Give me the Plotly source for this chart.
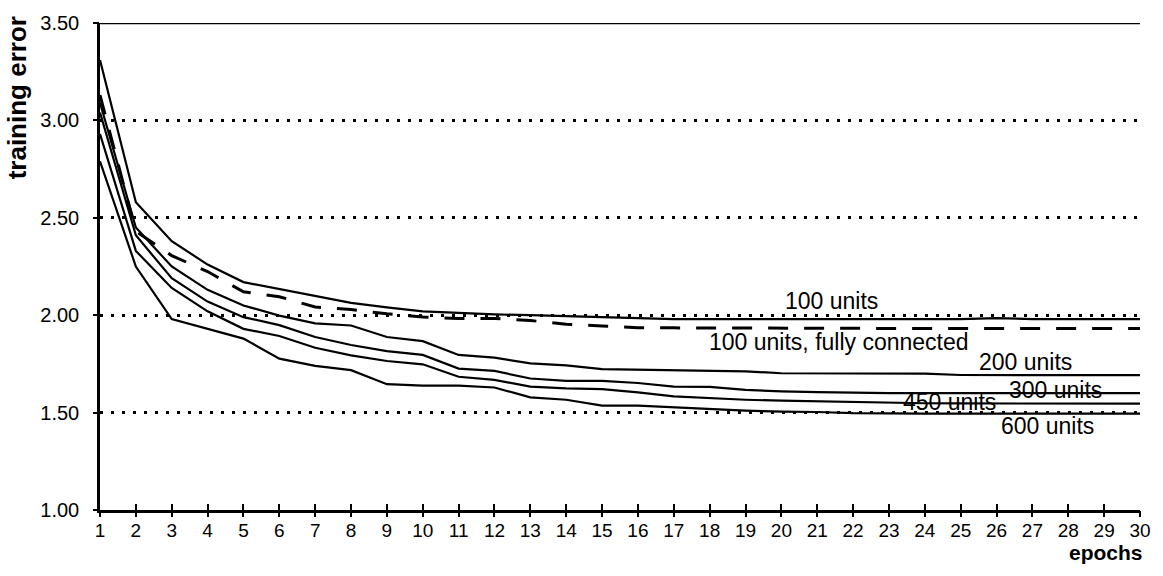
import plotly.graph_objects as go

epochs = list(range(1, 31))

u100 = [3.31, 2.58, 2.38, 2.26, 2.17, 2.135, 2.10, 2.063, 2.04, 2.02, 2.012, 2.004, 2.0, 1.995, 1.99,
        1.985, 1.98, 1.98, 1.98, 1.98, 1.98, 1.98, 1.98, 1.98, 1.98, 1.985, 1.98, 1.98, 1.98, 1.98]
u100_fc = [3.13, 2.43, 2.306, 2.224, 2.12, 2.095, 2.042, 2.029, 2.007, 1.991, 1.983, 1.983, 1.973, 1.953, 1.945,
           1.935, 1.935, 1.934, 1.933, 1.932, 1.932, 1.932, 1.932, 1.932, 1.932, 1.932, 1.932, 1.932, 1.932, 1.932]
u200 = [3.09, 2.45, 2.25, 2.13, 2.05, 1.998, 1.958, 1.947, 1.888, 1.867, 1.796, 1.782, 1.753, 1.742, 1.723,
        1.72, 1.716, 1.714, 1.712, 1.702, 1.702, 1.702, 1.70, 1.70, 1.693, 1.692, 1.692, 1.692, 1.692, 1.692]
u300 = [3.04, 2.41, 2.19, 2.07, 1.99, 1.949, 1.888, 1.847, 1.816, 1.796, 1.726, 1.714, 1.675, 1.663, 1.663,
        1.652, 1.633, 1.632, 1.617, 1.609, 1.605, 1.601, 1.60, 1.60, 1.60, 1.60, 1.60, 1.60, 1.60, 1.60]
u450 = [2.93, 2.33, 2.14, 2.02, 1.93, 1.893, 1.833, 1.794, 1.765, 1.748, 1.684, 1.668, 1.633, 1.624, 1.621,
        1.604, 1.583, 1.573, 1.566, 1.561, 1.557, 1.555, 1.549, 1.548, 1.547, 1.547, 1.546, 1.546, 1.546, 1.546]
u600 = [2.79, 2.25, 1.98, 1.93, 1.88, 1.777, 1.74, 1.718, 1.646, 1.638, 1.638, 1.629, 1.578, 1.566, 1.536,
        1.536, 1.527, 1.519, 1.51, 1.505, 1.503, 1.497, 1.495, 1.495, 1.495, 1.495, 1.495, 1.495, 1.495, 1.495]

series = [
    ("100 units", u100, "solid"),
    ("100 units, fully connected", u100_fc, "20px,16px"),
    ("200 units", u200, "solid"),
    ("300 units", u300, "solid"),
    ("450 units", u450, "solid"),
    ("600 units", u600, "solid"),
]

# label positions (x in epochs, y in error units)
labels = [
    ("100 units", 21.4, 2.075),
    ("100 units, fully connected", 21.6, 1.865),
    ("200 units", 26.82, 1.76),
    ("300 units", 27.65, 1.615),
    ("450 units", 24.7, 1.556),
    ("600 units", 27.43, 1.43),
]

y_ticks = [1.0, 1.5, 2.0, 2.5, 3.0, 3.5]
y_ticktext = ["1.00", "1.50", "2.00", "2.50", "3.00", "3.50"]

FONT = "Arial, 'Liberation Sans', sans-serif"

fig = go.Figure()
for name, vals, dash in series:
    fig.add_trace(go.Scatter(
        x=epochs, y=vals, mode="lines", name=name,
        line=dict(color="black", width=3 if dash != "solid" else 2.2, dash=dash),
        showlegend=False, xaxis="x", yaxis="y",
    ))

# invisible helper traces for the overlay tick axes
fig.add_trace(go.Scatter(x=[epochs[0], epochs[-1]], y=[y_ticks[0], y_ticks[0]], mode="lines",
                         line=dict(width=0), xaxis="x2", yaxis="y", showlegend=False, hoverinfo="skip"))
fig.add_trace(go.Scatter(x=[epochs[0], epochs[-1]], y=[y_ticks[0], y_ticks[0]], mode="lines",
                         line=dict(width=0), xaxis="x3", yaxis="y", showlegend=False, hoverinfo="skip"))
fig.add_trace(go.Scatter(x=[epochs[0], epochs[-1]], y=[y_ticks[0], y_ticks[0]], mode="lines",
                         line=dict(width=0), xaxis="x", yaxis="y2", showlegend=False, hoverinfo="skip"))

for text, x, y in labels:
    fig.add_annotation(x=x, y=y, xref="x", yref="y", text=text, showarrow=False,
                       font=dict(family=FONT, size=23, color="black"))

fig.add_annotation(xref="paper", yref="paper", x=-0.08, xanchor="center", y=1.0 - (95 - 20) / 490,
                   yanchor="middle", text="<b>training error</b>",
                   textangle=-90, showarrow=False, font=dict(family=FONT, size=26, color="black"))
fig.add_annotation(xref="paper", yref="paper", x=1.005, xanchor="right", y=-(553 - 510) / 490,
                   yanchor="middle", text="<b>epochs</b>", showarrow=False,
                   font=dict(family=FONT, size=21, color="black"))

# solid top border line at 3.50
fig.add_shape(type="line", xref="paper", yref="y", x0=0, x1=1, y0=y_ticks[-1], y1=y_ticks[-1],
              line=dict(color="black", width=2.5))

fig.update_layout(
    width=1163, height=576,
    margin=dict(l=100, r=14, t=20, b=66),
    paper_bgcolor="white", plot_bgcolor="white",
    font=dict(family=FONT, size=19, color="black"),
    xaxis=dict(range=[1, 30], tickmode="array", tickvals=epochs, ticktext=[str(e) for e in epochs],
               showgrid=False, zeroline=False, showline=True, linecolor="black", linewidth=2.5,
               ticks="outside", ticklen=1, tickwidth=1, tickcolor="rgba(0,0,0,0)",
               tickfont=dict(size=19)),
    xaxis2=dict(range=[1, 30], overlaying="x", tickmode="array", tickvals=epochs, showticklabels=False,
                showgrid=False, zeroline=False, showline=False, ticks="inside", ticklen=6, tickwidth=2,
                tickcolor="black", side="bottom", anchor="y"),
    xaxis3=dict(range=[1, 30], overlaying="x", tickmode="array", tickvals=epochs, showticklabels=False,
                showgrid=False, zeroline=False, showline=False, ticks="outside", ticklen=6, tickwidth=2,
                tickcolor="black", side="bottom", anchor="y"),
    yaxis=dict(range=[1, 3.5], tickmode="array", tickvals=y_ticks, ticktext=y_ticktext,
               showgrid=True, gridcolor="black", gridwidth=3, griddash="3px,8px",
               zeroline=False, showline=True, linecolor="black", linewidth=2.5,
               ticks="outside", ticklen=14, tickwidth=1, tickcolor="rgba(0,0,0,0)",
               tickfont=dict(size=20)),
    yaxis2=dict(range=[1, 3.5], overlaying="y", tickmode="array", tickvals=y_ticks, showticklabels=False,
                showgrid=False, zeroline=False, showline=False, ticks="outside", ticklen=6, tickwidth=2,
                tickcolor="black", side="left", anchor="x"),
)

fig.write_html("out.html")
